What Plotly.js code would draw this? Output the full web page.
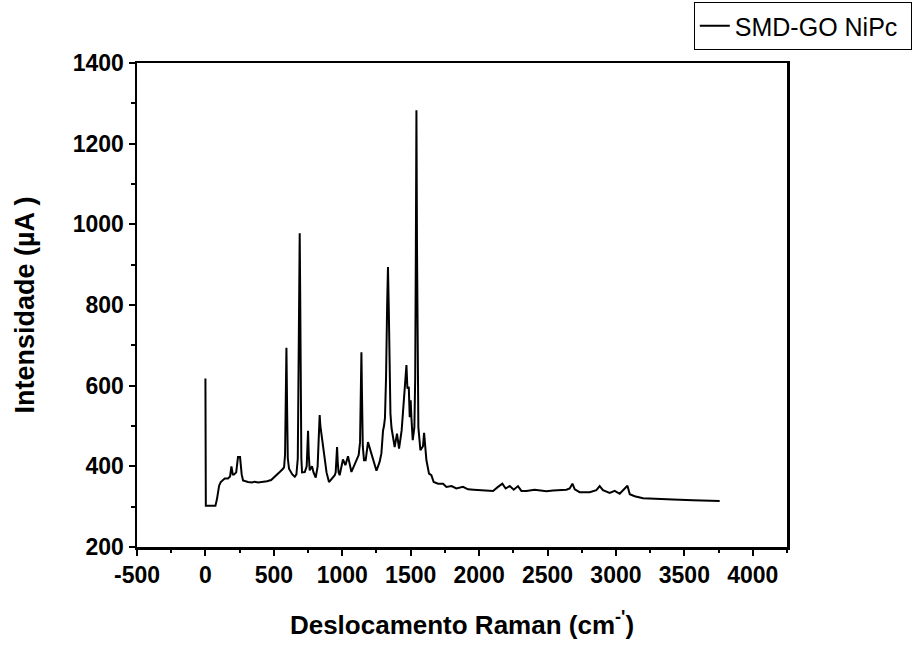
<!DOCTYPE html>
<html>
<head>
<meta charset="utf-8">
<script src="https://cdn.plot.ly/plotly-3.0.1.min.js"></script>
<style>html,body{margin:0;padding:0;background:#fff;}#chart{width:912px;height:646px;}</style>
</head>
<body>
<div id="chart"></div>
<script>
const seriesName = "SMD-GO NiPc";
const ramanShift = [0,3,73,85,100,112,141,165,180,190,200,209,225,238,253,265,275,311,340,360,385,409,430,450,480,506,525,543,567,575,582,587,592,597,602,611,635,653,665,675,681,686,689,692,696,701,706,726,740,745,750,755,762,779,790,806,820,828,835,840,846,852,860,872,885,903,932,945,952,957,962,967,973,981,1005,1023,1042,1067,1091,1115,1120,1130,1136,1140,1144,1150,1159,1171,1188,1213,1250,1273,1286,1298,1305,1312,1320,1328,1334,1340,1346,1352,1360,1366,1383,1400,1415,1434,1444,1456,1469,1476,1486,1493,1500,1505,1515,1527,1533,1538,1542,1546,1551,1556,1571,1590,1598,1615,1634,1651,1668,1700,1737,1761,1798,1834,1882,1919,1960,2004,2050,2102,2138,2170,2194,2224,2253,2284,2309,2345,2406,2450,2492,2540,2589,2638,2662,2682,2699,2735,2808,2857,2881,2905,2954,2991,3027,3084,3101,3137,3198,3296,3417,3563,3758];
const intensity = [618,302,302,320,352,361,370,370,375,400,380,380,385,423,423,380,365,361,360,362,360,361,362,363,366,374,378,386,394,398,430,560,694,540,420,394,380,374,380,420,600,850,978,850,560,420,385,386,400,440,488,430,390,400,385,372,400,470,527,500,485,473,445,419,385,361,372,378,385,420,448,410,385,378,417,403,425,386,407,425,428,460,580,683,580,450,415,415,460,432,389,411,432,489,500,520,620,800,894,790,620,531,495,481,448,481,444,489,539,597,651,593,597,522,564,522,465,497,620,950,1283,950,620,497,440,450,483,415,382,378,361,357,357,349,351,345,349,343,342,341,341,339,349,357,345,351,342,351,339,339,342,340,338,340,341,342,345,357,343,336,336,341,351,341,334,339,332,352,331,326,321,319,318,316,314];
const xTickVals = [-500,0,500,1000,1500,2000,2500,3000,3500,4000];
const yTickVals = [200,400,600,800,1000,1200,1400];

const fontFam = "Arial, 'Liberation Sans', sans-serif";
const trace = {
  x: ramanShift, y: intensity, type: 'scatter', mode: 'lines', name: seriesName,
  line: {color: '#000', width: 2}
};
const axisCommon = {
  showgrid: false, zeroline: false, showline: true, linecolor: '#000', linewidth: 2.5,
  mirror: true, ticks: 'outside', ticklen: 6, tickwidth: 2, tickcolor: '#000',
  tickfont: {family: fontFam, size: 23, color: '#000', weight: 'bold'}
};
const layout = {
  width: 912, height: 646,
  margin: {l: 137, r: 125, t: 63, b: 99, autoexpand: false},
  paper_bgcolor: '#fff', plot_bgcolor: '#fff',
  showlegend: true,
  legend: {
    orientation: 'h', entrywidth: 171, entrywidthmode: 'pixels',
    x: 1.192, y: 1.126, xanchor: 'right', yanchor: 'top',
    bordercolor: '#000', borderwidth: 1, bgcolor: '#fff',
    font: {family: fontFam, size: 25, color: '#000'}, itemwidth: 30
  },
  xaxis: Object.assign({}, axisCommon, {
    range: [-500, 4250], tickvals: xTickVals, ticktext: xTickVals.map(String),
    minor: {dtick: 250, tick0: 0, ticks: 'outside', ticklen: 3, tickwidth: 2, tickcolor: '#000'},
    title: {text: "Deslocamento Raman (cm<sup>-'</sup>)", font: {family: fontFam, size: 26, color: '#000', weight: 'bold'}, standoff: 29}
  }),
  yaxis: Object.assign({}, axisCommon, {
    range: [200, 1400], tickvals: yTickVals, ticktext: yTickVals.map(String),
    minor: {dtick: 100, tick0: 0, ticks: 'outside', ticklen: 4, tickwidth: 2, tickcolor: '#000'},
    title: {text: "Intensidade (µA )", font: {family: fontFam, size: 27, color: '#000', weight: 'bold'}, standoff: 31}
  })
};
Plotly.newPlot('chart', [trace], layout, {displayModeBar: false, staticPlot: true});
</script>
</body>
</html>
